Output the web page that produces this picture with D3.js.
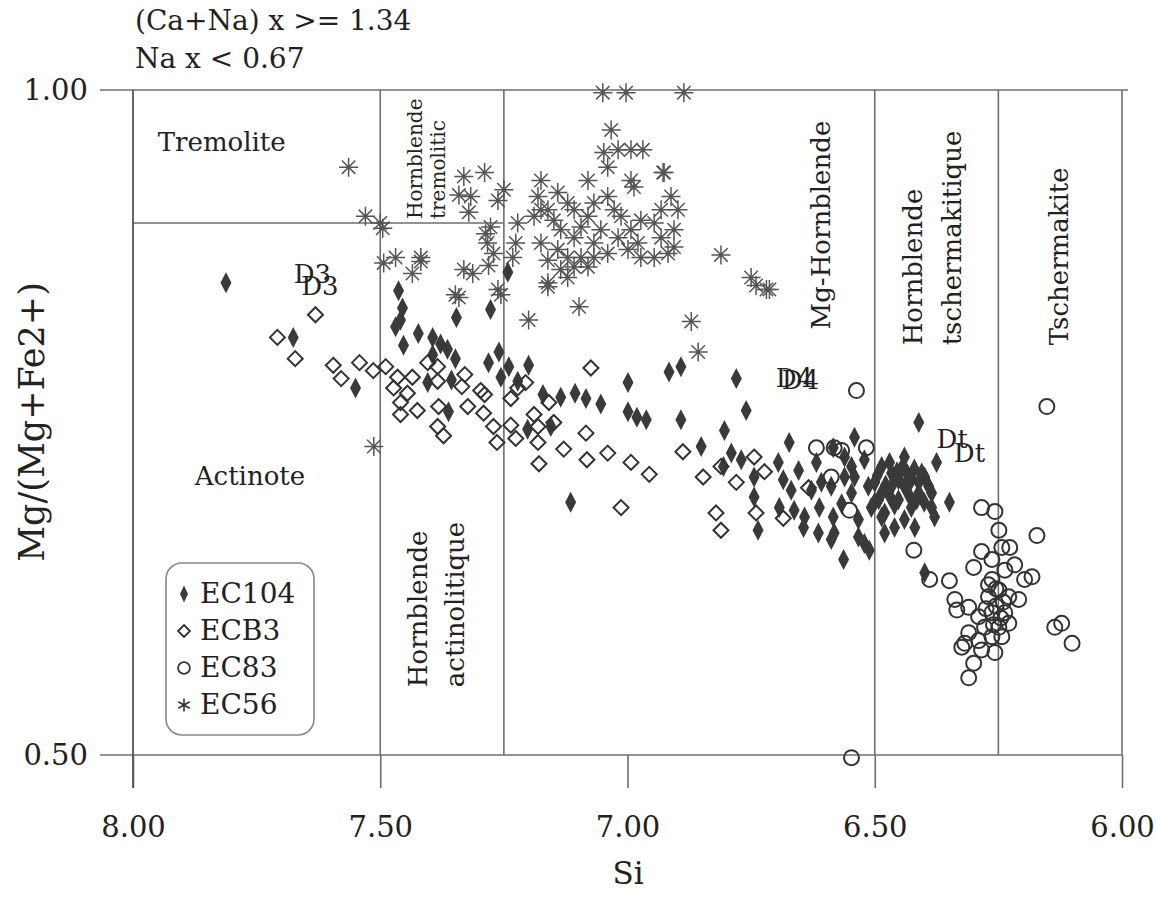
<!DOCTYPE html>
<html>
<head>
<meta charset="utf-8">
<script src="https://cdn.jsdelivr.net/npm/d3@7"></script>
<style>
  body { margin: 0; background: #fff; }
  svg text { font-family: "DejaVu Serif", serif; fill: #222; }
</style>
</head>
<body>
<svg id="chart" width="1158" height="899"></svg>
<script>
// [Si, Mg/(Mg+Fe2+)]
const ec104 = [
  [7.812,0.855],[7.676,0.814],[7.550,0.776],[7.463,0.849],[7.455,0.836],[7.459,0.827],[7.469,0.822],
  [7.453,0.808],[7.423,0.817],[7.394,0.814],[7.394,0.801],[7.378,0.809],[7.364,0.805],[7.348,0.798],
  [7.404,0.780],[7.356,0.782],[7.362,0.758],[7.346,0.829],[7.277,0.835],[7.242,0.863],[7.281,0.795],
  [7.260,0.803],[7.240,0.792],[7.256,0.784],[7.200,0.793],[7.202,0.745],[7.222,0.781],[7.171,0.771],
  [7.155,0.747],[7.135,0.769],[7.106,0.772],[7.084,0.768],[7.054,0.764],[6.999,0.780],[6.999,0.758],
  [6.981,0.754],[6.962,0.752],[6.916,0.788],[6.892,0.792],[6.780,0.783],[6.760,0.759],[6.892,0.752],
  [6.851,0.732],[6.804,0.744],[6.673,0.735],[7.115,0.690],[6.411,0.750],[6.375,0.720],[6.349,0.690],
  [6.563,0.647],[6.399,0.637],
  [6.790,0.727],[6.770,0.722],[6.806,0.717],[6.744,0.709],[6.744,0.694],[6.736,0.669],[6.695,0.720],
  [6.685,0.707],[6.669,0.699],[6.693,0.686],[6.654,0.714],[6.642,0.679],[6.618,0.720],[6.608,0.705],
  [6.612,0.686],[6.584,0.731],[6.588,0.702],[6.584,0.679],[6.582,0.667],[6.561,0.724],[6.561,0.709],
  [6.547,0.697],[6.541,0.739],[6.533,0.677],[6.521,0.659],[6.511,0.654],[6.547,0.717],[6.521,0.722],
  [6.513,0.702],[6.492,0.692],[6.486,0.717],[6.480,0.682],[6.466,0.702],[6.452,0.692],[6.440,0.724],
  [6.426,0.707],[6.411,0.697],[6.399,0.709],[6.385,0.697],[6.379,0.679],[6.440,0.677],[6.419,0.671],
  [6.460,0.671],[6.480,0.667],[6.507,0.686],[6.567,0.689],[6.628,0.699],[6.663,0.684],[6.644,0.671],
  [6.614,0.667],[6.588,0.662],[6.533,0.664],[6.500,0.705],[6.486,0.697],[6.466,0.712],[6.452,0.707],
  [6.440,0.702],[6.411,0.705],[6.391,0.702],[6.385,0.686],[6.426,0.686],[6.486,0.679],[6.541,0.709],
  [6.470,0.695],[6.455,0.713],[6.430,0.695],[6.400,0.690],[6.420,0.715],[6.470,0.720],[6.495,0.710],
  [6.500,0.690],[6.460,0.688],[6.445,0.716],[6.435,0.712],[6.415,0.692],[6.405,0.712],[6.478,0.703]
];

const ecb3 = [
  [7.631,0.831],[7.708,0.814],[7.672,0.798],[7.595,0.793],[7.579,0.783],[7.542,0.795],[7.514,0.789],
  [7.489,0.792],[7.465,0.784],[7.473,0.776],[7.445,0.772],[7.459,0.765],[7.459,0.756],[7.425,0.759],
  [7.435,0.784],[7.404,0.795],[7.384,0.792],[7.384,0.781],[7.382,0.762],[7.384,0.747],[7.372,0.740],
  [7.329,0.786],[7.335,0.777],[7.323,0.762],[7.297,0.774],[7.289,0.771],[7.291,0.757],[7.271,0.747],
  [7.264,0.735],[7.236,0.768],[7.236,0.748],[7.226,0.738],[7.222,0.776],[7.206,0.780],[7.189,0.756],
  [7.181,0.747],[7.181,0.735],[7.159,0.765],[7.149,0.750],[7.129,0.730],[7.179,0.719],[7.084,0.742],
  [7.074,0.791],[7.082,0.722],[7.040,0.727],[6.993,0.720],[6.956,0.711],[7.013,0.686],[6.888,0.728],
  [6.847,0.709],[6.821,0.682],[6.811,0.669],[6.780,0.705],[6.744,0.724],[6.723,0.713],[6.740,0.682],
  [6.685,0.678],[6.811,0.717],[6.634,0.701]
];

const ec83 = [
  [6.537,0.774],[6.152,0.762],[6.618,0.731],[6.582,0.731],[6.567,0.729],[6.517,0.731],[6.588,0.709],
  [6.551,0.684],[6.421,0.654],[6.389,0.632],[6.349,0.631],[6.172,0.665],[6.284,0.686],[6.257,0.683],
  [6.249,0.669],[6.284,0.653],[6.300,0.641],[6.243,0.656],[6.227,0.656],[6.263,0.647],[6.217,0.643],
  [6.237,0.639],[6.197,0.632],[6.182,0.634],[6.263,0.632],[6.249,0.624],[6.270,0.619],[6.229,0.619],
  [6.209,0.617],[6.338,0.617],[6.334,0.609],[6.310,0.611],[6.290,0.604],[6.263,0.607],[6.237,0.607],
  [6.278,0.596],[6.249,0.596],[6.229,0.599],[6.310,0.592],[6.318,0.584],[6.290,0.586],[6.263,0.589],
  [6.243,0.589],[6.324,0.581],[6.284,0.579],[6.257,0.577],[6.300,0.569],[6.310,0.558],[6.136,0.596],
  [6.122,0.599],[6.101,0.584],[6.547,0.498],
  [6.255,0.612],[6.245,0.603],[6.260,0.598],[6.270,0.628],[6.240,0.615],[6.255,0.625],[6.275,0.610]
];

const ec56 = [
  [7.564,0.942],[7.530,0.905],[7.500,0.900],[7.495,0.896],[7.493,0.870],[7.469,0.874],[7.435,0.862],
  [7.418,0.871],[7.418,0.874],[7.331,0.935],[7.289,0.938],[7.341,0.921],[7.317,0.920],[7.321,0.908],
  [7.331,0.865],[7.313,0.862],[7.348,0.846],[7.287,0.892],[7.283,0.885],[7.277,0.897],[7.250,0.925],
  [7.262,0.917],[7.271,0.877],[7.281,0.868],[7.262,0.850],[7.256,0.846],[7.222,0.900],[7.226,0.885],
  [7.232,0.874],[7.175,0.932],[7.181,0.920],[7.175,0.910],[7.189,0.905],[7.175,0.885],[7.161,0.872],
  [7.161,0.852],[7.200,0.827],[7.098,0.837],[7.033,0.970],[7.048,0.953],[7.019,0.955],[6.993,0.955],
  [6.969,0.955],[7.040,0.942],[6.928,0.938],[6.993,0.932],[6.987,0.927],[7.141,0.923],[7.121,0.915],
  [7.108,0.910],[7.080,0.905],[7.068,0.915],[7.040,0.920],[7.027,0.910],[7.080,0.932],[6.912,0.920],
  [6.898,0.910],[6.932,0.910],[6.946,0.900],[6.973,0.902],[6.993,0.895],[7.013,0.905],[7.019,0.889],
  [7.054,0.895],[7.068,0.885],[7.094,0.897],[7.108,0.889],[7.135,0.895],[7.149,0.902],[7.161,0.910],
  [7.141,0.880],[7.121,0.874],[7.094,0.874],[7.068,0.874],[7.040,0.877],[7.135,0.865],[7.108,0.867],
  [7.121,0.859],[7.161,0.855],[6.999,0.880],[6.973,0.874],[6.946,0.874],[6.918,0.877],[6.906,0.882],
  [6.932,0.889],[6.906,0.895],[6.979,0.885],[7.080,0.867],[6.871,0.826],[7.050,0.998],[7.003,0.998],
  [6.886,0.998],[6.926,0.938],[6.811,0.876],[6.750,0.859],[6.740,0.853],[6.719,0.850],[6.713,0.850],
  [6.857,0.803],[7.513,0.732],[7.341,0.844]
];

const xTicks = [8.00, 7.50, 7.00, 6.50, 6.00];
const yTicks = [1.00, 0.50];
const headerLines = ["(Ca+Na) x >= 1.34", "Na x < 0.67"];
const seriesNames = ["EC104", "ECB3", "EC83", "EC56"];

// field boundaries of the amphibole diagram
const vBounds = [
  {si: 7.50}, {si: 7.25}, {si: 6.50}, {si: 6.25}, {si: 6.00}
];
const fieldLabels = [
  {t: "Tremolite", si: 7.95, v: 0.954, rot: false, size: 26},
  {t: "Actinote", si: 7.875, v: 0.703, rot: false, size: 26},
  {t: "Hornblende", si: 7.415, v: 0.903, rot: true, size: 20},
  {t: "tremolitic", si: 7.37, v: 0.903, rot: true, size: 20},
  {t: "Hornblende", si: 7.405, v: 0.551, rot: true, size: 26},
  {t: "actinolitique", si: 7.33, v: 0.551, rot: true, size: 26},
  {t: "Mg-Hornblende", si: 6.59, v: 0.820, rot: true, size: 26},
  {t: "Hornblende", si: 6.405, v: 0.808, rot: true, size: 26},
  {t: "tschermakitique", si: 6.325, v: 0.808, rot: true, size: 26},
  {t: "Tschermakite", si: 6.11, v: 0.808, rot: true, size: 26}
];
// the source figure prints these labels twice, slightly offset
const pointLabels = [
  {t: "D3", si: 7.675, v: 0.855}, {t: "D3", si: 7.66, v: 0.846},
  {t: "D4", si: 6.70, v: 0.777}, {t: "D4", si: 6.688, v: 0.775},
  {t: "Dt", si: 6.375, v: 0.731}, {t: "Dt", si: 6.34, v: 0.720}
];

const svg = d3.select("#chart");
const x = d3.scaleLinear().domain([8, 6]).range([133, 1122]);
const y = d3.scaleLinear().domain([0.5, 1]).range([755, 90]);
const lineCol = "#6e6e6e", ink = "#333";

// header text
svg.selectAll("text.head").data(headerLines).join("text")
  .attr("class", "head")
  .attr("x", 135).attr("y", (d, i) => 30 + i * 38)
  .attr("font-size", 28).text(d => d);

// frame lines
const g = svg.append("g");
g.append("line").attr("x1", 100).attr("x2", x(6) + 6).attr("y1", y(1)).attr("y2", y(1))
  .attr("stroke", lineCol).attr("stroke-width", 1.6);
g.append("line").attr("x1", x(7.25)).attr("x2", x(8)).attr("y1", y(0.9)).attr("y2", y(0.9))
  .attr("stroke", lineCol).attr("stroke-width", 1.6);
g.selectAll("line.vb").data(vBounds).join("line")
  .attr("class", "vb")
  .attr("x1", d => x(d.si)).attr("x2", d => x(d.si))
  .attr("y1", y(1)).attr("y2", y(0.5))
  .attr("stroke", lineCol).attr("stroke-width", 1.6);

// axes
const xAxis = d3.axisBottom(x).tickValues(xTicks).tickSize(33).tickPadding(28)
  .tickFormat(d3.format(".2f"));
const ax = svg.append("g").attr("transform", `translate(0,${y(0.5)})`).call(xAxis);
ax.select(".domain").remove();
ax.append("line").attr("x1", 100).attr("x2", x(6)).attr("stroke", lineCol).attr("stroke-width", 1.6);
ax.selectAll(".tick line").attr("stroke", lineCol).attr("stroke-width", 1.6);
ax.selectAll(".tick text").attr("font-size", 29).attr("font-family", "DejaVu Serif").attr("fill", "#222");

const yAxis = d3.axisLeft(y).tickValues(yTicks).tickSize(0).tickPadding(45)
  .tickFormat(d3.format(".2f"));
const ay = svg.append("g").attr("transform", `translate(${x(8)},0)`).call(yAxis);
ay.select(".domain").remove();
ay.append("line").attr("y1", y(1)).attr("y2", y(0.5) + 33).attr("stroke", "#555").attr("stroke-width", 1.8);
ay.selectAll(".tick text").attr("font-size", 29).attr("font-family", "DejaVu Serif").attr("fill", "#222");

svg.append("text").attr("x", 628).attr("y", 884).attr("text-anchor", "middle")
  .attr("font-size", 31).text("Si");
svg.append("text").attr("transform", "translate(44,422) rotate(-90)")
  .attr("text-anchor", "middle").attr("font-size", 35).text("Mg/(Mg+Fe2+)");

// field names
svg.selectAll("text.field").data(fieldLabels).join("text")
  .attr("class", "field")
  .attr("font-size", d => d.size)
  .attr("transform", d => `translate(${x(d.si)},${y(d.v)})` + (d.rot ? " rotate(-90)" : ""))
  .text(d => d.t);

// marker shapes
const diamond = (w, h) => `M0,${-h/2}L${w/2},0L0,${h/2}L${-w/2},0Z`;
const star = (r, n) => d3.range(n).map(i => {
  const a = Math.PI * i / n;
  return `M${(r*Math.sin(a)).toFixed(2)},${(-r*Math.cos(a)).toFixed(2)}L${(-r*Math.sin(a)).toFixed(2)},${(r*Math.cos(a)).toFixed(2)}`;
}).join("");

const pts = svg.append("g");
pts.selectAll("path.ec56").data(ec56).join("path")
  .attr("class", "ec56")
  .attr("transform", d => `translate(${x(d[0])},${y(d[1])})`)
  .attr("d", star(9.5, 4)).attr("stroke", "#555").attr("stroke-width", 1.5).attr("fill", "none");
pts.selectAll("path.ec104").data(ec104).join("path")
  .attr("class", "ec104")
  .attr("transform", d => `translate(${x(d[0])},${y(d[1])})`)
  .attr("d", diamond(11, 21)).attr("fill", "#3a3a3a");
pts.selectAll("path.ecb3").data(ecb3).join("path")
  .attr("class", "ecb3")
  .attr("transform", d => `translate(${x(d[0])},${y(d[1])})`)
  .attr("d", diamond(15, 15)).attr("fill", "none").attr("stroke", ink).attr("stroke-width", 2);
pts.selectAll("circle.ec83").data(ec83).join("circle")
  .attr("class", "ec83")
  .attr("cx", d => x(d[0])).attr("cy", d => y(d[1])).attr("r", 7.5)
  .attr("fill", "none").attr("stroke", ink).attr("stroke-width", 2);

// point annotations
svg.selectAll("text.plab").data(pointLabels).join("text")
  .attr("class", "plab")
  .attr("x", d => x(d.si)).attr("y", d => y(d.v))
  .attr("font-size", 26).text(d => d.t);

// legend
const lg = svg.append("g").attr("transform", "translate(166,563)");
lg.append("rect").attr("width", 148).attr("height", 172).attr("rx", 16)
  .attr("fill", "#fff").attr("stroke", "#888").attr("stroke-width", 1.6);
const rows = lg.selectAll("g.row").data(seriesNames).join("g")
  .attr("class", "row").attr("transform", (d, i) => `translate(18,${30 + i * 37})`);
rows.append("text").attr("x", 16).attr("y", 10).attr("font-size", 28).text(d => d);
rows.append("path").attr("d", (d, i) =>
    i === 0 ? diamond(8, 17) : i === 1 ? diamond(12, 12) : i === 2 ? d3.symbol(d3.symbolCircle, 110)() : star(6.5, 3))
  .attr("transform", "translate(0,1)")
  .attr("fill", (d, i) => i === 0 ? "#3a3a3a" : "none")
  .attr("stroke", (d, i) => i === 0 ? "none" : ink)
  .attr("stroke-width", (d, i) => i === 3 ? 1.6 : 1.8);
</script>
</body>
</html>
